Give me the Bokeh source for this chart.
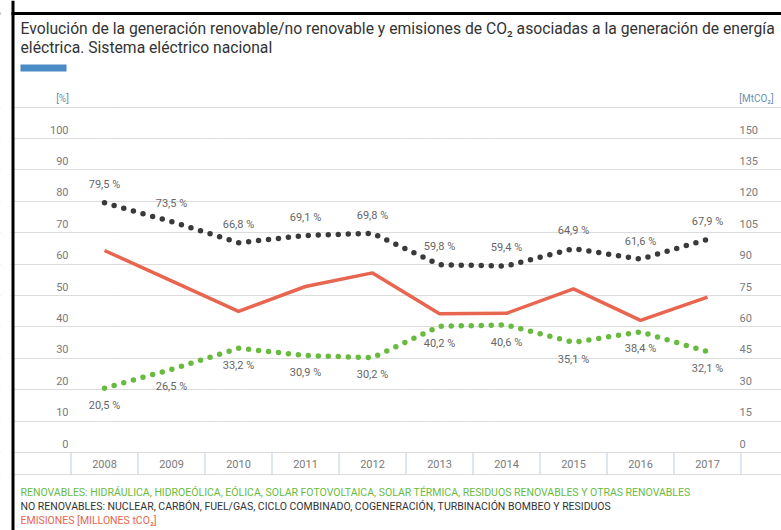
from bokeh.plotting import figure
from bokeh.models import Range1d, Label, Span, BoxAnnotation, Grid, FixedTicker
from bokeh.core.properties import value
from bokeh.embed import file_html
from bokeh.resources import INLINE

# ---------------- data ----------------
years = [2008, 2009, 2010, 2011, 2012, 2013, 2014, 2015, 2016, 2017]
renovable = [20.5, 26.5, 33.2, 30.9, 30.2, 40.2, 40.6, 35.1, 38.4, 32.1]
no_renovable = [79.5, 73.5, 66.8, 69.1, 69.8, 59.8, 59.4, 64.9, 61.6, 67.9]
emisiones = [96.5, 82.0, 67.4, 79.3, 85.8, 66.3, 66.5, 78.2, 63.1, 74.2]  # MtCO2
pct_ticks = [0, 10, 20, 30, 40, 50, 60, 70, 80, 90, 100]
co2_ticks = [0, 15, 30, 45, 60, 75, 90, 105, 120, 135, 150]
year_labels = [str(y) for y in years]

# ---------------- layout helpers ----------------
W, H = 781, 530
PX_YEAR = 67.0
PX_UNIT = 3.14
ZERO_PX = 452
X_START = 2008 - 104 / PX_YEAR
X_END = X_START + W / PX_YEAR
Y_START = -(H - ZERO_PX) / PX_UNIT
Y_END = ZERO_PX / PX_UNIT


def X(px):
    return X_START + px / PX_YEAR


def Y(py):
    return (ZERO_PX - py) / PX_UNIT


FONT = "Roboto"
GREY = "#7a7a7a"
DARK = "#3a3a3a"
GREEN = "#69bb3f"
RED = "#e8654f"

p = figure(width=W, height=H, x_range=Range1d(X_START, X_END),
           y_range=Range1d(Y_START, Y_END), x_axis_type=None, y_axis_type=None,
           toolbar_location=None, output_backend="svg", min_border=0,
           title=None, outline_line_color=None, background_fill_color="white",
           border_fill_color="white")
p.extra_y_ranges = {"co2": Range1d(Y_START * 1.5, Y_END * 1.5)}

# grid lines (incl. top line and bottom of the year row)
grid = Grid(dimension=1, ticker=FixedTicker(ticks=pct_ticks + [110, Y(474)]),
            grid_line_color="#b8b8b8", grid_line_dash="1 1", grid_line_width=1)
p.add_layout(grid)

# year cell separators
bounds = [y - 0.5 for y in years] + [years[-1] + 0.5]
p.segment(x0=bounds, y0=[Y(452)] * len(bounds), x1=bounds, y1=[Y(474)] * len(bounds),
          line_color="#b9cfe3", line_width=1)

# year labels
p.text(x=years, y=[Y(463)] * len(years), text=year_labels, text_align="center",
       text_baseline="middle", text_font_size="11px", text_color=GREY,
       text_font=value(FONT))

# left tick labels
p.text(x=[X(68)] * len(pct_ticks), y=pct_ticks, text=[str(v) for v in pct_ticks],
       text_align="right", text_baseline="middle", y_offset=-9,
       text_font_size="11px", text_color=GREY, text_font=value(FONT))
# right tick labels
p.text(x=[X(739)] * len(co2_ticks), y=co2_ticks, text=[str(v) for v in co2_ticks],
       text_align="left", text_baseline="middle", y_offset=-9, y_range_name="co2",
       text_font_size="11px", text_color=GREY, text_font=value(FONT))

# series
p.line(years, no_renovable, line_width=5.5, line_dash="0 10", line_cap="round",
       line_color=DARK)
p.line(years, renovable, line_width=5.5, line_dash="0 10", line_cap="round",
       line_color=GREEN)
p.line(years, emisiones, y_range_name="co2", line_width=3.5, line_color=RED)


def fmt(v):
    return f"{v:.1f}".replace(".", ",") + " %"


p.text(x=years, y=no_renovable, text=[fmt(v) for v in no_renovable],
       text_align="center", text_baseline="middle", y_offset=-18,
       text_font_size="11px", text_color="#666666", text_font=value(FONT))
p.text(x=years, y=renovable, text=[fmt(v) for v in renovable],
       text_align="center", text_baseline="middle", y_offset=17,
       text_font_size="11px", text_color="#666666", text_font=value(FONT))

# decorations: border (top line, white margin, left line)
p.add_layout(Span(location=Y(13), dimension="width", line_color="black",
                  line_width=3))
p.add_layout(BoxAnnotation(right=X(11), fill_color="white", fill_alpha=1,
                           line_color=None))
p.add_layout(Span(location=X(12.5), dimension="height", line_color="black",
                  line_width=3))

# title
p.add_layout(Label(x=X(20), y=Y(28),
                   text="Evolución de la generación renovable/no renovable y emisiones de CO\u2082 asociadas a la generación de energía",
                   text_baseline="middle", text_font_size="15.7px", text_font=FONT,
                   text_color="#333333"))
p.add_layout(Label(x=X(20), y=Y(47), text="eléctrica. Sistema eléctrico nacional",
                   text_baseline="middle", text_font_size="15.7px", text_font=FONT,
                   text_color="#333333"))
p.add_layout(BoxAnnotation(left=X(20), right=X(66), top=Y(64), bottom=Y(71),
                           fill_color="#4a8bc6", fill_alpha=1, line_color=None))

# axis units
p.add_layout(Label(x=X(62), y=Y(98), text="[%]", text_align="center",
                   text_baseline="middle", text_font_size="10px", text_font=FONT,
                   text_color="#6c8fae"))
p.add_layout(Label(x=X(756), y=Y(98), text="[MtCO\u2082]", text_align="center",
                   text_baseline="middle", text_font_size="10px", text_font=FONT,
                   text_color="#6c8fae"))

# footnotes
p.add_layout(Label(x=X(20), y=Y(492),
                   text="RENOVABLES: HIDRÁULICA, HIDROEÓLICA, EÓLICA, SOLAR FOTOVOLTAICA, SOLAR TÉRMICA, RESIDUOS RENOVABLES Y OTRAS RENOVABLES",
                   text_baseline="middle", text_font_size="10.5px", text_font=FONT,
                   text_color=GREEN))
p.add_layout(Label(x=X(20), y=Y(506),
                   text="NO RENOVABLES: NUCLEAR, CARBÓN, FUEL/GAS, CICLO COMBINADO, COGENERACIÓN, TURBINACIÓN BOMBEO Y RESIDUOS",
                   text_baseline="middle", text_font_size="10.5px", text_font=FONT,
                   text_color="#333333"))
p.add_layout(Label(x=X(20), y=Y(520), text="EMISIONES [MILLONES tCO\u2082]",
                   text_baseline="middle", text_font_size="10.5px", text_font=FONT,
                   text_color=RED))

open("out.html", "w").write(file_html(p, INLINE))
